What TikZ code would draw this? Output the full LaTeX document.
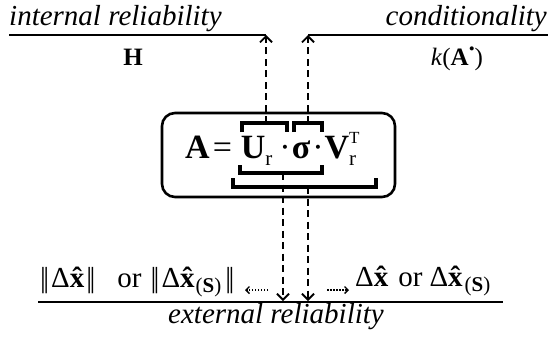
\documentclass[tikz,border=0pt]{standalone}
\usepackage{fontspec}
\setmainfont{Liberation Serif}
\usetikzlibrary{arrows.meta,positioning}

\newcommand{\hx}{\ooalign{\textbf{x}\cr\hidewidth\textbf{ˆ}\hidewidth\cr}}
\newcommand{\nrmbar}{\textbar\kern-2.6pt\textbar}
\newcommand{\lowtxt}[1]{\raisebox{-0.45ex}{\fontsize{21}{21}\selectfont #1}}
\newcommand{\hightxt}[1]{\raisebox{0.9ex}{\fontsize{17}{17}\selectfont #1}}

\begin{document}
\begin{tikzpicture}[x=1pt,y=-1pt,
  lbl/.style={font=\fontsize{29}{33}\selectfont,inner sep=0pt},
  mat/.style={font=\fontsize{25}{29}\selectfont,inner sep=0pt},
  rule/.style={line width=2pt},
  brk/.style={line width=3.4pt},
  eqbox/.style={draw,line width=2.6pt,rounded corners=13pt,minimum width=233pt,minimum height=84pt,inner sep=0pt},
  eqtxt/.style={font=\fontsize{34}{38}\selectfont,inner sep=0pt},
  dasharrow/.style={line width=1.8pt,dash pattern=on 7pt off 4.5pt,-{Straight Barb[length=6pt,width=12pt,line width=1.8pt]}},
  dotarrow/.style={line width=1.4pt,dash pattern=on 1.5pt off 1.5pt,-{Straight Barb[length=3.5pt,width=7pt,line width=1.4pt]}}]
\useasboundingbox (0,0) rectangle (548,338);

% top rules
\coordinate (hStart) at (9,35);
\coordinate (hEnd) at (266,35);
\coordinate (kStart) at (308,35);
\coordinate (kEnd) at (548,35);
\draw[rule] (hStart) -- (hEnd);
\draw[rule] (kStart) -- (kEnd);
\node[lbl,anchor=base west] (intrel) at (9,25) {\textit{internal reliability}};
\node[lbl,anchor=base east] (cond) at (547,25) {\textit{conditionality}};
\node[mat,anchor=base] (hmat) at (133,65) {\textbf{H}};
\node[mat,anchor=base] (kcond) at (457,65) {\textit{k}(\textbf{A}\hightxt{•})};

% the decomposition
\node[eqbox] (svd) at (278.5,155) {};
\node[eqtxt,anchor=base west] (eqn) at (185,158) {\textbf{A}\kern3pt=\kern9pt\textbf{U}\lowtxt{r}\kern7pt·\kern1pt\textbf{σ}\kern2pt·\kern1pt\textbf{V}\rlap{\hightxt{T}}\lowtxt{r}};
\draw[brk] (242,132) -- (242,123) -- (287,123) -- (287,132);
\draw[brk] (294,132) -- (294,123) -- (322,123) -- (322,132);
\draw[brk] (240,165) -- (240,173) -- (322,173) -- (322,165);
\draw[brk] (233,178) -- (233,187) -- (376,187) -- (376,178);
\coordinate (uTop) at (266,123);
\coordinate (sTop) at (308,123);
\coordinate (usLow) at (283,173);
\coordinate (usvLow) at (308,187);

% bottom rule
\coordinate (eStart) at (38,302);
\coordinate (eEnd) at (503,302);
\draw[rule] (eStart) -- (eEnd);
\coordinate (eLeft) at (283,301);
\coordinate (eRight) at (308,301);
\node[lbl,anchor=base west] (normx) at (40,287) {\nrmbar\kern2pt Δ\hx\kern2pt\nrmbar\kern22pt or\kern9pt\nrmbar\kern2pt Δ\hx\kern1pt\lowtxt{(\textbf{S})}\kern4pt\nrmbar};
\node[lbl,anchor=base west] (dx) at (355,286) {Δ\hx\kern10pt or\kern7pt Δ\hx\kern2pt\lowtxt{(\textbf{S})}};
\node[lbl,anchor=base] (extrel) at (276,323) {\textit{external reliability}};
\coordinate (dotL1) at (268,290);
\coordinate (dotL2) at (245,290);
\coordinate (dotR1) at (327,290);
\coordinate (dotR2) at (349,290);
\draw[dotarrow] (dotL1) -- (dotL2);
\draw[dotarrow] (dotR1) -- (dotR2);

% connectors
\draw[dasharrow] (uTop) -- (hEnd);
\draw[dasharrow] (sTop) -- (kStart);
\draw[dasharrow] (usLow) -- (eLeft);
\draw[dasharrow] (usvLow) -- (eRight);
\end{tikzpicture}
\end{document}
